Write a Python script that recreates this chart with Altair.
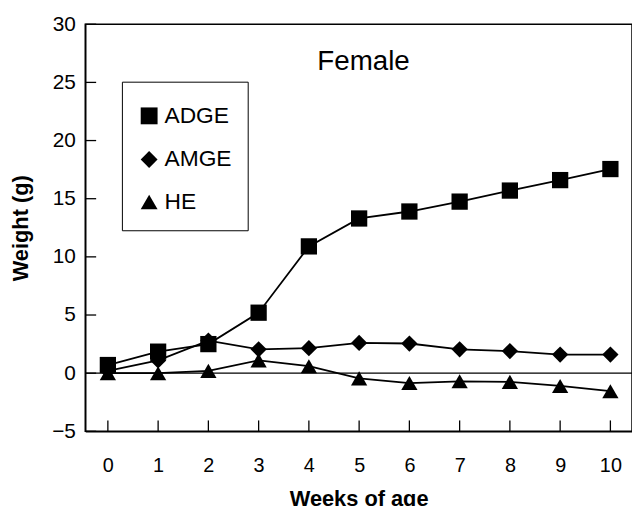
import altair as alt
import pandas as pd

weeks = [0, 1, 2, 3, 4, 5, 6, 7, 8, 9, 10]
adge = [0.7, 1.85, 2.5, 5.2, 10.9, 13.3, 13.9, 14.75, 15.7, 16.6, 17.55]
amge = [0.2, 1.1, 2.8, 2.05, 2.15, 2.6, 2.55, 2.05, 1.9, 1.6, 1.6]
he = [0.0, 0.0, 0.2, 1.1, 0.6, -0.45, -0.85, -0.7, -0.75, -1.1, -1.55]
series_names = ["ADGE", "AMGE", "HE"]
shapes = ["square", "diamond", "triangle-up"]
x_ticks = list(range(0, 11))
y_ticks = [-5, 0, 5, 10, 15, 20, 25, 30]
panel_title = ["Female"]

rows = []
for name, vals in zip(series_names, [adge, amge, he]):
    for w, v in zip(weeks, vals):
        rows.append({"week": w, "weight": v, "series": name})
df = pd.DataFrame(rows)

W, H = 552, 411
FONT = "Liberation Sans"

xs = alt.Scale(domain=[-0.45, 10.43], nice=False, zero=False)
ys = alt.Scale(domain=[-5, 30], nice=False, zero=False)

x_axis = alt.Axis(values=x_ticks, title="Weeks of age", ticks=False, grid=False,
                  labelFontSize=20, labelPadding=25, titleFontSize=22,
                  titleFontWeight="bold", titlePadding=13, labelFlush=False)
y_axis = alt.Axis(values=y_ticks, title="Weight (g)", ticks=False, grid=False,
                  labelFontSize=21, labelPadding=10, titleFontSize=22,
                  titleFontWeight="bold", titlePadding=19)

base = alt.Chart(df)

zero = alt.Chart(pd.DataFrame({"z": [0]})).mark_rule(color="black", strokeWidth=1.3).encode(
    y=alt.Y("z:Q", scale=ys, axis=y_axis))

lines = base.mark_line(color="black", strokeWidth=1.8).encode(
    x=alt.X("week:Q", scale=xs, axis=x_axis),
    y=alt.Y("weight:Q", scale=ys, axis=y_axis),
    detail="series:N")

points = base.mark_point(filled=True, color="black", opacity=1, size=270).encode(
    x=alt.X("week:Q", scale=xs, axis=x_axis),
    y=alt.Y("weight:Q", scale=ys, axis=y_axis),
    shape=alt.Shape("series:N",
                    scale=alt.Scale(domain=series_names, range=shapes),
                    legend=alt.Legend(title=" ", titleFontSize=4, titlePadding=3,
                                      orient="none", legendX=37, legendY=58,
                                      strokeColor="black", padding=16,
                                      symbolSize=290, symbolFillColor="black",
                                      symbolStrokeColor="black", labelFontSize=23,
                                      labelOffset=4, rowPadding=19, labelColor="black")))

ytick = alt.Chart(pd.DataFrame({"t": y_ticks})).mark_rule(color="black", strokeWidth=1.3).encode(
    y=alt.Y("t:Q", scale=ys, axis=y_axis), x=alt.value(0), x2=alt.value(11))
xtick = alt.Chart(pd.DataFrame({"t": x_ticks})).mark_rule(color="black", strokeWidth=1.3).encode(
    x=alt.X("t:Q", scale=xs, axis=x_axis), y=alt.value(H), y2=alt.value(H - 11))

title_txt = alt.Chart(pd.DataFrame({"label": panel_title})).mark_text(
    fontSize=28, font=FONT, color="black", align="center", baseline="alphabetic"
).encode(text="label:N", x=alt.value(W / 2 + 5), y=alt.value(46))

chart = alt.layer(zero, ytick, xtick, lines, points, title_txt).properties(
    width=W, height=H,
    autosize=alt.AutoSizeParams(type="none"),
    padding={"left": 78, "top": 14, "right": 0, "bottom": 74},
).configure(font=FONT).configure_view(
    stroke="black", strokeWidth=1.5
).configure_axis(
    domainColor="black", domainWidth=1.5, labelColor="black", titleColor="black",
    labelFont=FONT, titleFont=FONT
).configure_legend(labelFont=FONT)

chart.save("out.html", embed_options={"renderer": "svg", "actions": False})
